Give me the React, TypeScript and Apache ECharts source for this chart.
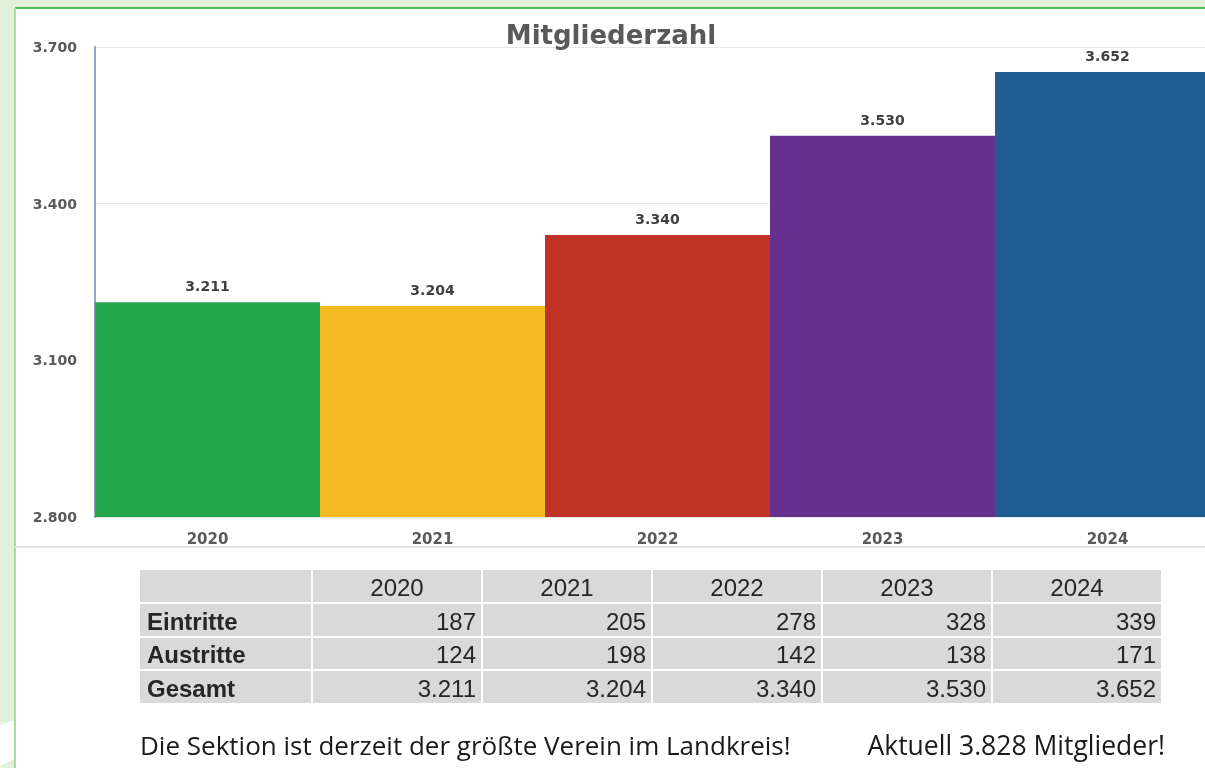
import React, { useEffect, useRef } from "react";
import * as echarts from "echarts";

const years = ["2020", "2021", "2022", "2023", "2024"];
const members = [3211, 3204, 3340, 3530, 3652];
const eintritte = [187, 205, 278, 328, 339];
const austritte = [124, 198, 142, 138, 171];
const gesamt = [3211, 3204, 3340, 3530, 3652];
const rowLabels = ["Eintritte", "Austritte", "Gesamt"];
const barColors = ["#22a74f", "#f5b921", "#c03226", "#67308f", "#205d92"];
const footerLeft = "Die Sektion ist derzeit der größte Verein im Landkreis!";
const footerRight = "Aktuell 3.828 Mitglieder!";

const fmt = (v: number) => String(v).replace(/\B(?=(\d{3})+(?!\d))/g, ".");

export default function App() {
  const ref = useRef<HTMLDivElement>(null);
  useEffect(() => {
    const chart = echarts.init(ref.current!, null, { renderer: "svg" });

    const tblX = 140;
    const labelW = 172;
    const colW = 170;
    const rowH = [32, 32, 31, 32];
    const rowY = [570, 604, 638, 671];
    const g: any[] = [];
    g.push({ type: "rect", z: -10, shape: { x: 0, y: 0, width: 1205, height: 768 }, style: { fill: "#e2efda" }, silent: true });
    g.push({ type: "polygon", z: -9, shape: { points: [[0, 725], [15, 720], [15, 759], [0, 766]] }, style: { fill: "#ffffff" }, silent: true });
    g.push({ type: "rect", z: -8, shape: { x: 15, y: 8, width: 1200, height: 770 }, style: { fill: "#ffffff" }, silent: true });
    g.push({ type: "line", z: -7, shape: { x1: 15, y1: 8, x2: 1205, y2: 8 }, style: { stroke: "#4fbd4f", lineWidth: 2 }, silent: true });
    g.push({ type: "line", z: -7, shape: { x1: 15, y1: 8, x2: 15, y2: 768 }, style: { stroke: "#a6dca6", lineWidth: 2 }, silent: true });
    g.push({ type: "line", z: -7, shape: { x1: 15, y1: 547, x2: 1205, y2: 547 }, style: { stroke: "#e3e3e3", lineWidth: 2 }, silent: true });

    const rows = [eintritte, austritte, gesamt];
    for (let r = 0; r < 4; r++) {
      for (let c = 0; c < 6; c++) {
        const x = c === 0 ? tblX : tblX + labelW + (c - 1) * colW;
        const w = c === 0 ? labelW : colW;
        g.push({ type: "rect", shape: { x: x + (c === 0 ? 0 : 1), y: rowY[r], width: w - (c === 0 ? 1 : 2), height: rowH[r] }, style: { fill: "#d9d9d9" }, silent: true });
        let text = "";
        let align = "left";
        let tx = x + 7;
        let weight: any = "normal";
        if (r === 0 && c > 0) {
          text = years[c - 1];
          align = "center";
          tx = x + w / 2;
        } else if (r > 0 && c === 0) {
          text = rowLabels[r - 1];
          weight = "bold";
        } else if (r > 0 && c > 0) {
          text = fmt(rows[r - 1][c - 1]);
          align = "right";
          tx = x + w - 6;
        }
        if (text) {
          g.push({
            type: "text",
            x: tx,
            y: rowY[r] + rowH[r] / 2 + 1,
            style: { text, fill: "#262626", font: `${weight} 24px "Liberation Sans", Arial, sans-serif`, align, verticalAlign: "middle" },
            silent: true,
          });
        }
      }
    }
    g.push({ type: "text", x: 140, y: 745, style: { text: footerLeft, fill: "#1a1a1a", font: '26px "Open Sans", sans-serif', align: "left", verticalAlign: "middle" } });
    g.push({ type: "text", x: 1165, y: 745, style: { text: footerRight, fill: "#1a1a1a", font: '26.5px "Open Sans", sans-serif', align: "right", verticalAlign: "middle" } });

    chart.setOption({
      animation: false,
      title: {
        text: "Mitgliederzahl",
        left: 606,
        textAlign: "center",
        top: 17,
        textStyle: { fontFamily: "DejaVu Sans", fontWeight: "bold", fontSize: 26, color: "#595959" },
      },
      grid: { left: 95, width: 1125, top: 47, bottom: 251, containLabel: false, outerBoundsMode: "none" },
      xAxis: {
        type: "category",
        data: years,
        axisLine: { show: false },
        axisTick: { show: false },
        axisLabel: { margin: 14, color: "#595959", fontFamily: "DejaVu Sans", fontWeight: "bold", fontSize: 15 },
      },
      yAxis: {
        type: "value",
        min: 2800,
        max: 3700,
        interval: 300,
        axisLine: { show: true, lineStyle: { color: "#8eaac8", width: 2 } },
        axisTick: { show: false },
        splitLine: { lineStyle: { color: "#e6e6e6", width: 1 } },
        axisLabel: { margin: 18, color: "#595959", fontFamily: "DejaVu Sans", fontWeight: "bold", fontSize: 14, formatter: (v: number) => fmt(v) },
      },
      series: [
        {
          type: "bar",
          data: members,
          barCategoryGap: "0%",
          itemStyle: { color: (p: any) => barColors[p.dataIndex] },
          label: {
            show: true,
            position: "top",
            distance: 9,
            color: "#404040",
            fontFamily: "DejaVu Sans",
            fontWeight: "bold",
            fontSize: 14,
            formatter: (p: any) => fmt(p.value),
          },
          z: 3,
        },
      ],
      graphic: g,
    });
    return () => chart.dispose();
  }, []);
  return <div ref={ref} style={{ position: "fixed", left: 0, top: 0, width: 1205, height: 768 }} />;
}
